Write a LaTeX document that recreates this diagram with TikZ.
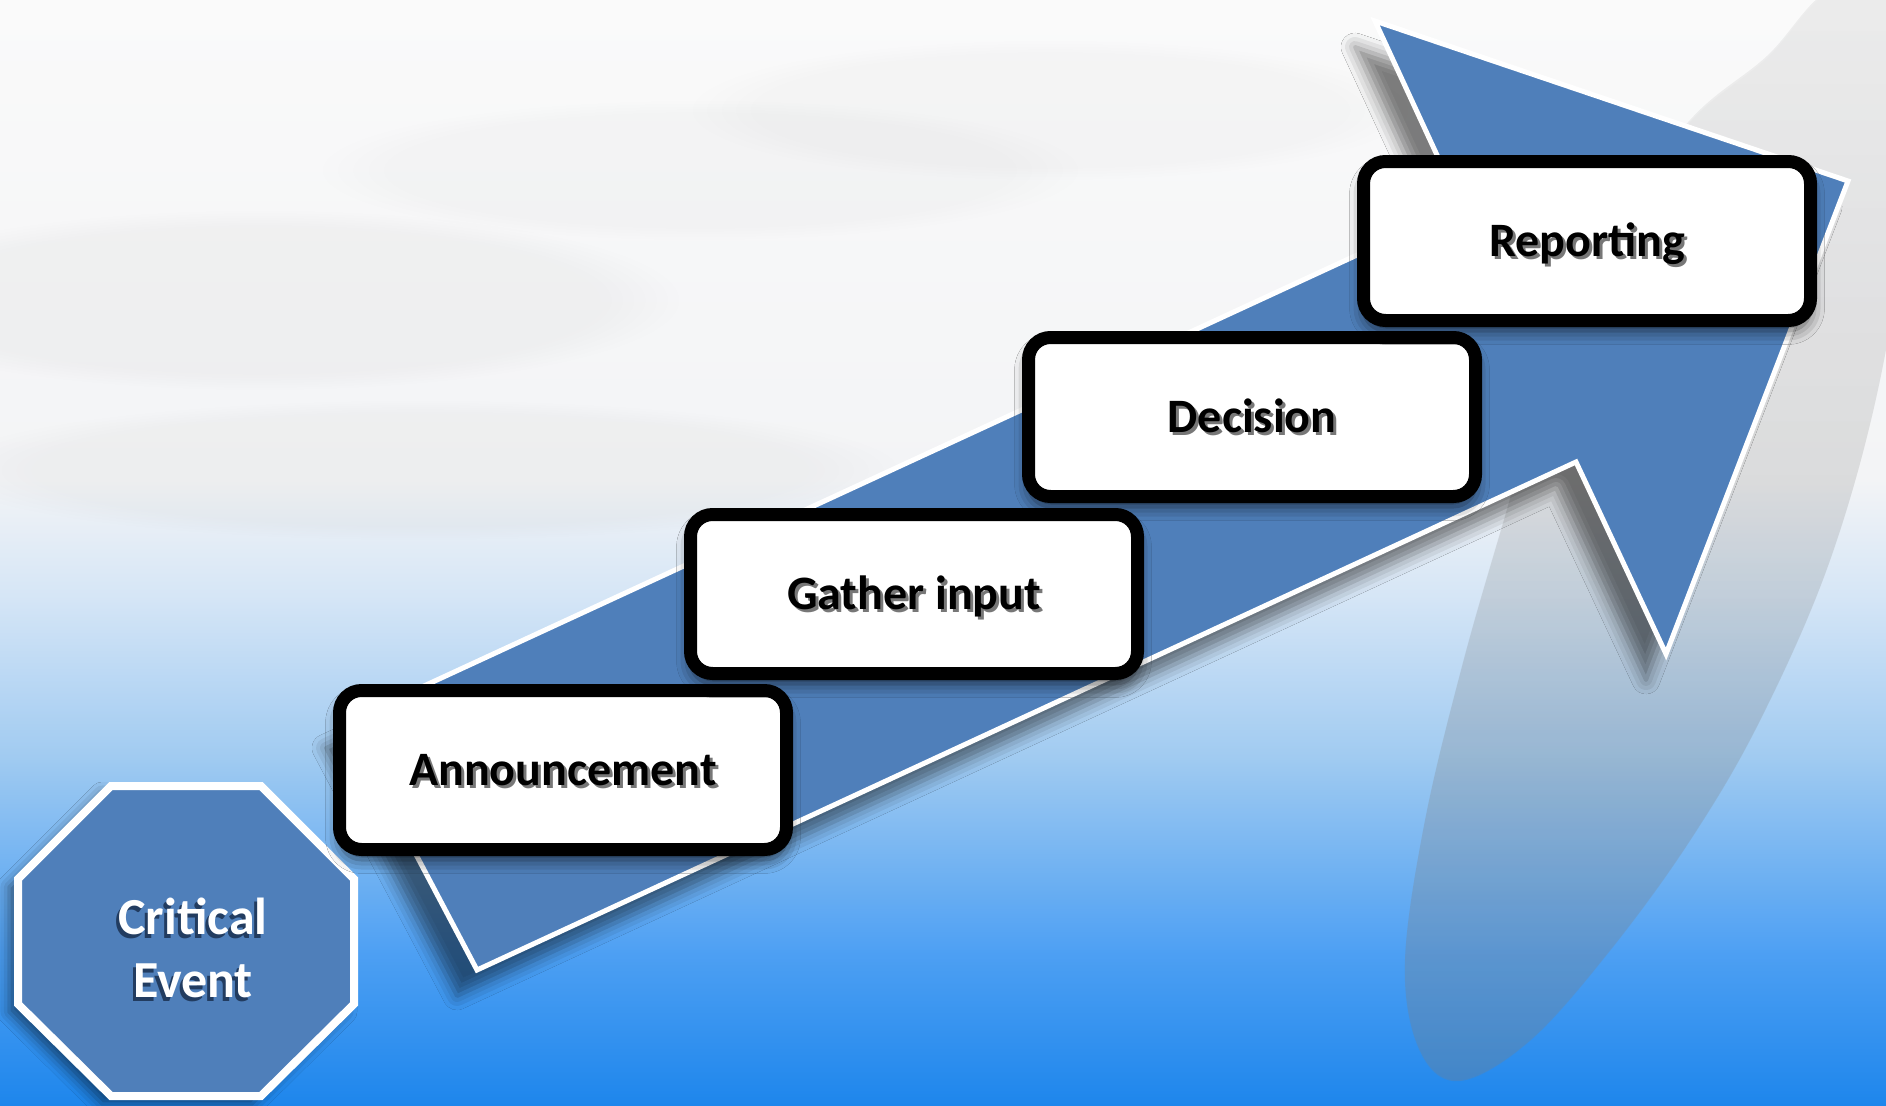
\documentclass[tikz,border=0pt]{standalone}
\usepackage{fontspec}
\setmainfont{Carlito}
\usetikzlibrary{shadows.blur,fadings}

\definecolor{arrowblue}{HTML}{4F7FBA}
\definecolor{bgA}{HTML}{FAFAFA}
\definecolor{bgB}{HTML}{F3F4F6}
\definecolor{bgC}{HTML}{D4E5F6}
\definecolor{bgD}{HTML}{9FCAF1}
\definecolor{bgE}{HTML}{4EA0F3}
\definecolor{bgF}{HTML}{1E86EC}
\definecolor{critshadow}{HTML}{223C60}
\definecolor{txtshadow}{HTML}{777777}

\newcommand{\shtxt}[4]{{\setbox0\hbox{#4}\rlap{\kern#2\raise#3\hbox{\color{#1}#4}}\box0}}

\begin{document}
\begin{tikzpicture}[x=1pt,y=-1pt,
  stepbox/.style={draw=black, line width=13pt, fill=white, rounded corners=22pt,
    minimum width=447pt, minimum height=159pt, inner sep=0pt,
    text height=30pt, text depth=0pt,
    font=\fontsize{48}{58}\selectfont\bfseries,
    blur shadow={shadow xshift=0pt, shadow yshift=-10pt, shadow blur radius=14pt, shadow opacity=65}},
  crittext/.style={text=white, align=center, inner sep=0pt,
    font=\fontsize{52}{63}\selectfont\bfseries},
  arrowshape/.style={draw=white, line width=5pt, fill=arrowblue, line join=miter,
    blur shadow={shadow xshift=-20pt, shadow yshift=-26pt, shadow blur radius=14pt, shadow opacity=50}},
  octshape/.style={draw=white, line width=8pt, fill=arrowblue, line join=miter,
    blur shadow={shadow xshift=-9pt, shadow yshift=-8pt, shadow blur radius=12pt, shadow opacity=50}},
  wisp/.style={fill=gray, path fading=circle with fuzzy edge 20 percent}
]
\useasboundingbox (0,0) rectangle (1886,1105);

% background
\shade[top color=bgA, bottom color=bgB] (0,0) rectangle (1886,482);
\shade[top color=bgB, bottom color=bgC] (0,480) rectangle (1886,602);
\shade[top color=bgC, bottom color=bgD] (0,600) rectangle (1886,762);
\shade[top color=bgD, bottom color=bgE] (0,760) rectangle (1886,952);
\shade[top color=bgE, bottom color=bgF] (0,950) rectangle (1886,1105);

% soft wisps
\fill[wisp, opacity=0.06] (260,300) ellipse [x radius=420, y radius=90];
\fill[wisp, opacity=0.04] (700,170) ellipse [x radius=380, y radius=70];
\fill[wisp, opacity=0.05] (420,470) ellipse [x radius=480, y radius=70];
\fill[wisp, opacity=0.04] (1050,110) ellipse [x radius=360, y radius=70];

% feather
\fill[gray, opacity=0.10] plot[smooth cycle, tension=0.6] coordinates {
  (1830,-10) (1767,56) (1690,120) (1610,230) (1545,380) (1504,519) (1463,662)
  (1425,820) (1405,963) (1420,1050) (1460,1080) (1530,1040) (1610,950)
  (1690,840) (1760,720) (1830,560) (1880,380) (1905,200) (1905,-10)};
\fill[gray, opacity=0.25, path fading=north] plot[smooth cycle, tension=0.6] coordinates {
  (1830,-10) (1767,56) (1690,120) (1610,230) (1545,380) (1504,519) (1463,662)
  (1425,820) (1405,963) (1420,1050) (1460,1080) (1530,1040) (1610,950)
  (1690,840) (1760,720) (1830,560) (1880,380) (1905,200) (1905,-10)};

% big arrow
\coordinate (tl) at (477,970);
\coordinate (ln) at (1576,462);
\coordinate (lb) at (1666,654);
\coordinate (tip) at (1848,181);
\coordinate (tb) at (1375,21);
\coordinate (un) at (1461,207);
\coordinate (tu) at (346,722);
\draw[arrowshape] (tl) -- (ln) -- (lb) -- (tip) -- (tb) -- (un) -- (tu) -- cycle;

% octagon
\coordinate (o1) at (111,786);
\coordinate (o2) at (261,786);
\coordinate (o3) at (354,879);
\coordinate (o4) at (354,1004);
\coordinate (o5) at (261,1096);
\coordinate (o6) at (111,1096);
\coordinate (o7) at (18,1004);
\coordinate (o8) at (18,879);
\draw[octshape] (o1) -- (o2) -- (o3) -- (o4) -- (o5) -- (o6) -- (o7) -- (o8) -- cycle;
\node[crittext] (crit) at (193,950)
  {\shtxt{critshadow}{-3pt}{-4pt}{Critical}\\\shtxt{critshadow}{-3pt}{-4pt}{Event}};

% steps
\node[stepbox] (ann) at (563,770) {\shtxt{txtshadow}{3pt}{-3pt}{Announcement}};
\node[stepbox] (gat) at (914,594) {\shtxt{txtshadow}{3pt}{-3pt}{Gather input}};
\node[stepbox] (dec) at (1252,417) {\shtxt{txtshadow}{3pt}{-3pt}{Decision}};
\node[stepbox] (rep) at (1587,241) {\shtxt{txtshadow}{3pt}{-3pt}{Reporting}};
\end{tikzpicture}
\end{document}
